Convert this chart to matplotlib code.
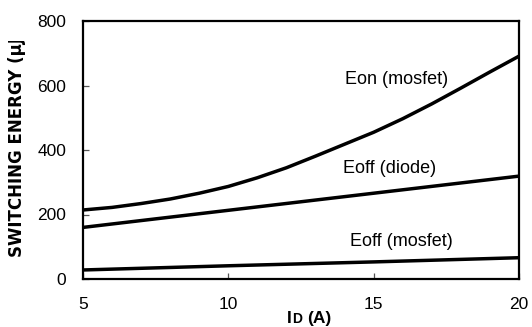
import matplotlib.pyplot as plt
from matplotlib.patches import Rectangle

plt.rcParams['font.family'] = ['Liberation Sans', 'DejaVu Sans']

# drain current (A)
current = [5, 6, 7, 8, 9, 10, 11, 12, 13, 14, 15, 16, 17, 18, 19, 20]
eon_mosfet = [214, 222, 234, 248, 266, 287, 314, 345, 381, 418, 455, 497, 543, 592, 642, 691]

current_lin = [5, 10, 15, 20]
eoff_diode = [160, 213, 266, 319]
eoff_mosfet = [28, 41, 53, 66]

labels = ['Eon (mosfet)', 'Eoff (diode)', 'Eoff (mosfet)']
label_pos = [(15.8, 620), (15.55, 344), (15.95, 115)]

W, H = 532, 327
fig = plt.figure(figsize=(W / 100, H / 100), dpi=100)
ax = fig.add_axes([83 / W, 1 - 279 / H, 436 / W, 258 / H])

ax.plot(current, eon_mosfet, color='black', lw=2.5)
ax.plot(current_lin, eoff_diode, color='black', lw=2.5)
ax.plot(current_lin, eoff_mosfet, color='black', lw=2.5)

for txt, (x, y) in zip(labels, label_pos):
    ax.text(x, y, txt, ha='center', va='center', fontsize=13)

ax.set_xlim(5, 20)
ax.set_ylim(0, 800)
ax.set_xticks([5, 10, 15, 20])
ax.set_yticks([0, 200, 400, 600, 800])
ax.tick_params(direction='in', length=4.5, width=0.9, colors='#555555',
               labelcolor='black', labelsize=12.5)
ax.tick_params(axis='y', pad=12)
ax.tick_params(axis='x', pad=13)
for s in ax.spines.values():
    s.set_linewidth(1.6)
    s.set_color('black')

# y label, cut off at the top like the original
fig.text(17 / W, 1 - 257 / H, 'SWITCHING ENERGY (µJ)', rotation=90,
         ha='center', va='bottom', fontsize=12, fontweight='bold', family='DejaVu Sans')
fig.add_artist(Rectangle((0, 1 - 41 / H), 32 / W, 41 / H, transform=fig.transFigure,
                         facecolor='white', edgecolor='none', zorder=10))

# x label "ID (A)" with small D
fig.text(287 / W, 4 / H, 'I', ha='left', va='baseline', fontsize=12.5, fontweight='bold')
fig.text(292 / W, 4 / H, 'D', ha='left', va='baseline', fontsize=10, fontweight='bold')
fig.text(307 / W, 4 / H, '(A)', ha='left', va='baseline', fontsize=12.5, fontweight='bold')

fig.savefig('out.png', dpi=100)
